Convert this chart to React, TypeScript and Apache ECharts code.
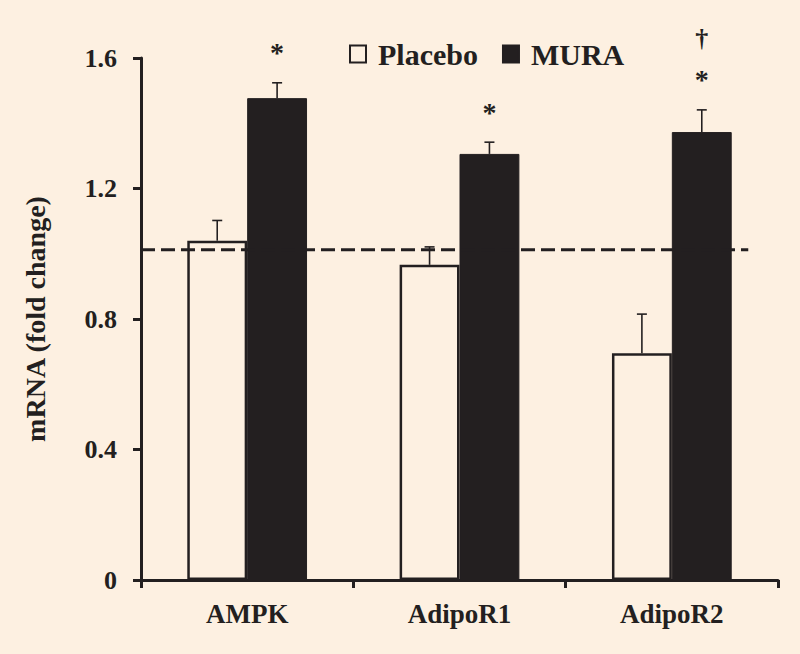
import React, { useEffect, useRef } from "react";
import * as echarts from "echarts";

const categories = ["AMPK", "AdipoR1", "AdipoR2"];
const placeboValues = [1.04, 0.966, 0.695];
const placeboErrors = [0.062, 0.055, 0.12];
const muraValues = [1.477, 1.306, 1.373];
const muraErrors = [0.047, 0.036, 0.068];
const muraStars = ["*", "*", "*"];
const muraDaggers = ["", "", "†"];
const yTicks = { min: 0, max: 1.6, interval: 0.4 };
const referenceLevel = 1.012;
const referenceSpan = [-0.5, 2.36];

const BG = "#fdf0e1";
const DARK = "#231f20";
const FONT = "'Liberation Serif', 'Times New Roman', serif";
const BAR_RATIO = 0.282;

function makeErrorSeries(name: string, values: number[], errors: number[], side: number, stars?: string[], daggers?: string[]) {
  return {
    name: name + "-err",
    type: "custom",
    z: 5,
    data: values.map((v, i) => [i, v, errors[i]]),
    renderItem: (params: any, api: any) => {
      const idx = api.value(0);
      const v = api.value(1);
      const e = api.value(2);
      const base = api.coord([idx, v]);
      const top = api.coord([idx, v + e]);
      const band = api.size([1, 0])[0];
      const x = base[0] + (side * band * BAR_RATIO) / 2;
      const children: any[] = [
        { type: "line", shape: { x1: x, y1: base[1], x2: x, y2: top[1] }, style: { stroke: DARK, lineWidth: 1.6 } },
        { type: "line", shape: { x1: x - 5, y1: top[1], x2: x + 5, y2: top[1] }, style: { stroke: DARK, lineWidth: 1.6 } },
      ];
      const s = stars ? stars[params.dataIndex] : "";
      const d = daggers ? daggers[params.dataIndex] : "";
      if (s) {
        children.push({
          type: "text",
          style: { text: s, x, y: top[1] - 30, align: "center", verticalAlign: "middle", fill: DARK, font: `bold 28px ${FONT}` },
        });
      }
      if (d) {
        children.push({
          type: "text",
          style: { text: d, x, y: top[1] - 71, align: "center", verticalAlign: "middle", fill: DARK, font: `bold 26px ${FONT}` },
        });
      }
      return { type: "group", children };
    },
  };
}

export default function App() {
  const ref = useRef<HTMLDivElement>(null);
  useEffect(() => {
    if (!ref.current) return;
    const chart = echarts.init(ref.current, null, { renderer: "svg" });
    chart.setOption({
      animation: false,
      backgroundColor: BG,
      textStyle: { fontFamily: FONT },
      grid: { left: 141, right: 22, top: 58, bottom: 74 },
      legend: {
        data: ["Placebo", "MURA"],
        left: 349,
        top: 39,
        padding: 0,
        icon: "rect",
        itemWidth: 16,
        itemHeight: 17,
        itemGap: 24,
        textStyle: { fontFamily: FONT, fontWeight: "bold", fontSize: 30, color: DARK, padding: [0, 0, 0, 7] },
      },
      xAxis: [
        {
          type: "category",
          data: categories,
          axisLine: { onZero: false, lineStyle: { color: DARK, width: 3 } },
          axisTick: { show: true, length: 8, lineStyle: { color: DARK, width: 3 } },
          axisLabel: { fontFamily: FONT, fontWeight: "bold", fontSize: 27, color: DARK, margin: 20 },
        },
        {
          type: "value",
          min: -0.5,
          max: categories.length - 0.5,
          show: false,
          splitLine: { show: false },
        },
      ],
      yAxis: {
        type: "value",
        min: yTicks.min,
        max: yTicks.max,
        interval: yTicks.interval,
        name: "mRNA (fold change)",
        nameLocation: "middle",
        nameGap: 92,
        nameTextStyle: { fontFamily: FONT, fontWeight: "bold", fontSize: 28, color: DARK },
        splitLine: { show: false },
        axisLine: { show: true, onZero: false, lineStyle: { color: DARK, width: 3 } },
        axisTick: { show: true, length: 8, lineStyle: { color: DARK, width: 3 } },
        axisLabel: { fontFamily: FONT, fontWeight: "bold", fontSize: 26, color: DARK, margin: 24 },
      },
      series: [
        {
          name: "Placebo",
          type: "bar",
          data: placeboValues,
          barWidth: BAR_RATIO * 100 + "%",
          barGap: "0%",
          itemStyle: { color: BG, borderColor: DARK, borderWidth: 2.5 },
        },
        {
          name: "MURA",
          type: "bar",
          data: muraValues,
          barWidth: BAR_RATIO * 100 + "%",
          barGap: "0%",
          itemStyle: { color: DARK, borderColor: DARK, borderWidth: 1 },
        },
        makeErrorSeries("Placebo", placeboValues, placeboErrors, -1),
        makeErrorSeries("MURA", muraValues, muraErrors, 1, muraStars, muraDaggers),
        {
          name: "ref",
          type: "line",
          xAxisIndex: 1,
          z: 6,
          silent: true,
          symbol: "none",
          data: referenceSpan.map((x) => [x, referenceLevel]),
          lineStyle: { color: DARK, width: 3, type: [14, 6] },
        },
      ],
    });
    return () => chart.dispose();
  }, []);
  return <div ref={ref} style={{ position: "fixed", left: 0, top: 0, width: 800, height: 654 }} />;
}
